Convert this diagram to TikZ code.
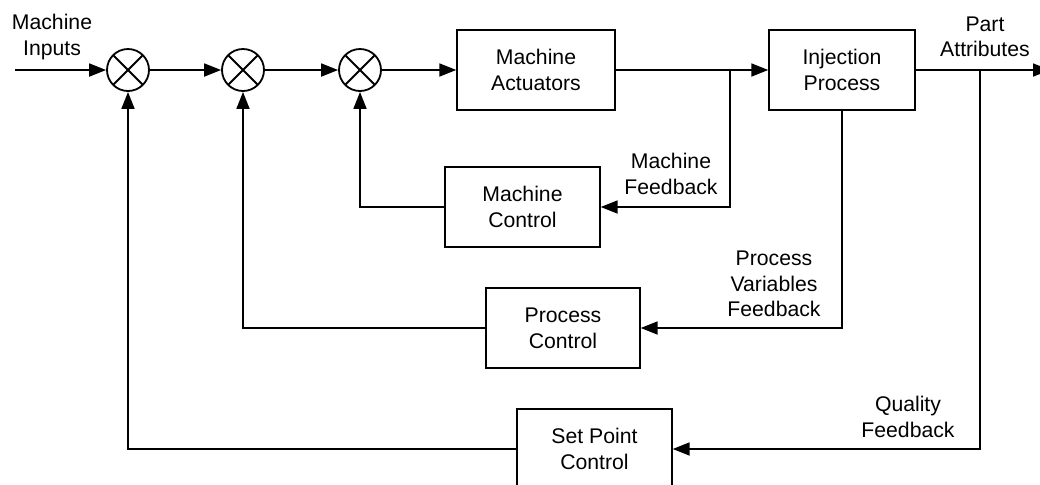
\documentclass[tikz,border=0pt]{standalone}
\usepackage{fontspec}
\setmainfont{Liberation Sans}
\usetikzlibrary{arrows.meta}
\begin{document}
\begin{tikzpicture}[x=0.5pt,y=-0.5pt,
  font=\fontsize{10.6}{12.8}\selectfont,
  line width=0.9pt,
  >={Triangle[length=8.5pt,width=6.5pt]},
  block/.style={draw, line width=0.7pt, minimum width=79pt, minimum height=40pt, align=center, inner sep=0pt},
  sumj/.style={draw, circle, minimum size=21pt, inner sep=0pt,
    path picture={\draw (path picture bounding box.south west) -- (path picture bounding box.north east)
                        (path picture bounding box.north west) -- (path picture bounding box.south east);}},
  lbl/.style={align=center, inner sep=0pt}]
\clip (0,0) rectangle (1040,484);
\node[sumj] (s1) at (128,70) {};
\node[sumj] (s2) at (243,70) {};
\node[sumj] (s3) at (360,70) {};
\node[block] (act) at (536,70) {Machine\\Actuators};
\node[block, minimum width=73pt] (inj) at (842,70) {Injection\\Process};
\node[block, minimum width=77.5pt] (mc) at (522.5,207) {Machine\\Control};
\node[block, minimum width=77pt] (pc) at (563,328) {Process\\Control};
\node[block, minimum width=77.5pt] (spc) at (594.5,449) {Set Point\\Control};
\coordinate (in) at (15,70);
\coordinate (out) at (1050,70);
\coordinate (b1) at (730,70);
\coordinate (b2) at (980,70);
\node[lbl] (lin) at (52,37) {Machine\\Inputs};
\node[lbl] (lout) at (985,37) {Part\\Attributes};
\node[lbl] (lmf) at (671,174) {Machine\\Feedback};
\node[lbl] (lpv) at (774,284) {Process\\Variables\\Feedback};
\node[lbl] (lqf) at (908,417) {Quality\\Feedback};
\draw[->] (in) -- (s1);
\draw[->] (s1) -- (s2);
\draw[->] (s2) -- (s3);
\draw[->] (s3) -- (act);
\draw[->] (act) -- (inj);
\draw[->] (inj) -- (out);
\draw[->] (b1) |- (mc);
\draw[->] (inj) |- (pc);
\draw[->] (b2) |- (spc);
\draw[->] (mc) -| (s3);
\draw[->] (pc) -| (s2);
\draw[->] (spc) -| (s1);
\end{tikzpicture}
\end{document}
